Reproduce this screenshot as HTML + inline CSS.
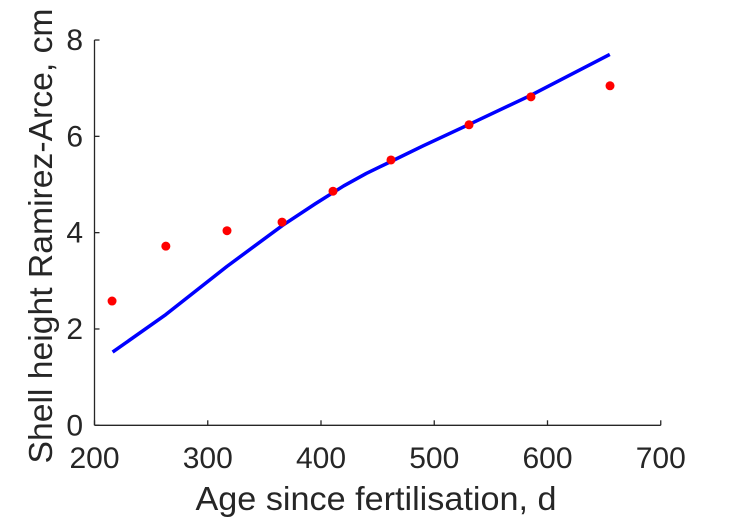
<!DOCTYPE html>
<html><head><meta charset="utf-8"><style>
body{margin:0;background:#fff;}
svg text{font-family:"Liberation Sans",sans-serif;fill:#262626;}
</style></head><body>
<svg id="chart" width="729" height="521">
<g id="axes"></g><g id="marks"></g>
</svg>
<script>
const xTicks=[200,300,400,500,600,700];
const yTicks=[0,2,4,6,8];
const obsAge=[215.5,263,317,365.6,410.6,461.8,530.7,585.4,655.2];
const obsHeight=[2.58,3.72,4.04,4.22,4.86,5.51,6.24,6.82,7.05];
const fitAge=[216,263,317,366,395,420,440,462,490,531,585,655];
const fitHeight=[1.52,2.3,3.3,4.15,4.6,4.97,5.23,5.48,5.8,6.25,6.85,7.7];
const NS='http://www.w3.org/2000/svg';
const X=v=>94.5+(v-200)*1.1325;
const Y=v=>425.3-v*48.16;
function mk(t,a,p){const e=document.createElementNS(NS,t);for(const k in a)e.setAttribute(k,a[k]);p.appendChild(e);return e;}
const ax=document.getElementById('axes'),mg=document.getElementById('marks');
let l=mk('line',{x1:X(200),y1:Y(0),x2:X(700),y2:Y(0),stroke:'#262626','stroke-width':1.3},ax);


l=mk('line',{x1:X(200),y1:Y(0),x2:X(200),y2:Y(8),stroke:'#262626','stroke-width':1.3},ax);


xTicks.forEach(v=>{
 mk('line',{x1:X(v),y1:Y(0),x2:X(v),y2:Y(0)-5,stroke:'#262626','stroke-width':1.3},ax);
 const t=mk('text',{x:X(v),y:468,'text-anchor':'middle','font-size':30},ax);t.textContent=v;
 
 
});
yTicks.forEach(v=>{
 mk('line',{x1:X(200),y1:Y(v),x2:X(200)+5,y2:Y(v),stroke:'#262626','stroke-width':1.3},ax);
 const t=mk('text',{x:83,y:Y(v)+10,'text-anchor':'end','font-size':30},ax);t.textContent=v;
 
 
});
let t=mk('text',{x:376,y:510,'text-anchor':'middle','font-size':33,textLength:361,lengthAdjust:'spacingAndGlyphs'},ax);t.textContent='Age since fertilisation, d';


t=mk('text',{x:0,y:0,'text-anchor':'middle','font-size':33,textLength:455,lengthAdjust:'spacingAndGlyphs',transform:'translate(52,236) rotate(-90)'},ax);t.textContent='Shell height Ramirez-Arce, cm';


const p=mk('polyline',{points:fitAge.map((a,i)=>X(a)+','+Y(fitHeight[i])).join(' '),fill:'none',stroke:'#0000ff','stroke-width':3.5,'stroke-linejoin':'round'},mg);


obsAge.forEach((a,i)=>{
 const c=mk('circle',{cx:X(a),cy:Y(obsHeight[i]),r:4.5,fill:'#ff0000'},mg);
 
 
});
</script>
</body></html>
